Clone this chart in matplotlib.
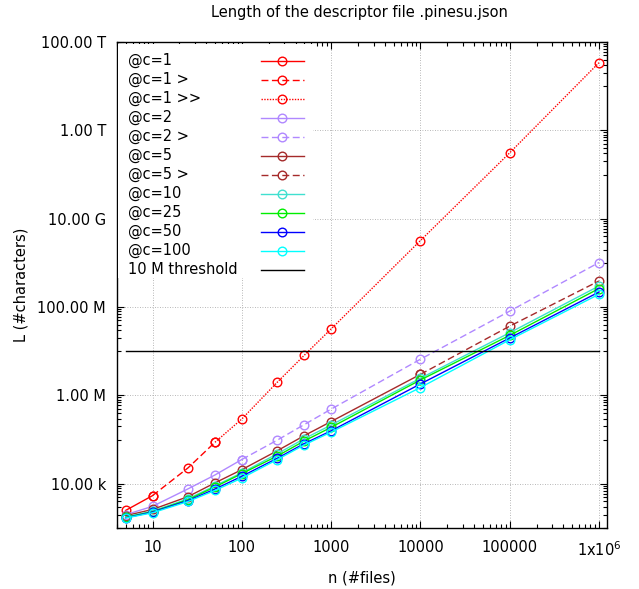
import matplotlib
matplotlib.use('Agg')
import matplotlib.pyplot as plt
from matplotlib.ticker import FixedLocator, FuncFormatter, NullFormatter
from matplotlib.patches import Rectangle

plt.rcParams['font.family'] = ['DejaVu Sans']
plt.rcParams['font.size'] = 10.5

# number of files for each series
n_c1 = [5, 10]
n_c1_gt = [10, 25, 50]
n_c1_gtgt = [50, 100, 250, 500, 1000, 10000, 100000, 1000000]
n_c2 = [5, 10, 25, 50, 100]
n_c2_gt = [100, 250, 500, 1000, 10000, 100000, 1000000]
n_c5 = [5, 10, 25, 50, 100, 250, 500, 1000, 10000]
n_c5_gt = [10000, 100000, 1000000]
n_all = [5, 10, 25, 50, 100, 250, 500, 1000, 10000, 100000, 1000000]

# descriptor length (characters)
L_c1 = [2500, 5400]
L_c1_gt = [5400, 23000, 87000]
L_c1_gtgt = [87000, 293000, 2.0e6, 8.1e6, 3.2e7, 3.2e9, 3.1e11, 3.4e13]
L_c2 = [2000, 3090, 7700, 15850, 35500]
L_c2_gt = [35500, 97700, 219000, 490000, 6.6e6, 8.1e7, 1.02e9]
L_c5 = [1900, 2630, 5130, 10500, 20900, 56200, 123000, 257000, 3.0e6]
L_c5_gt = [3.0e6, 3.7e7, 3.9e8]
L_c10 = [1780, 2400, 4570, 9000, 17800, 47900, 105000, 214000, 2.45e6, 2.63e7, 3.0e8]
L_c25 = [1740, 2340, 4370, 8500, 17000, 42700, 93300, 190000, 2.24e6, 2.29e7, 2.63e8]
L_c50 = [1700, 2290, 4170, 7590, 14800, 38000, 81300, 158000, 1.82e6, 2.0e7, 2.19e8]
L_c100 = [1680, 2210, 3980, 7080, 13500, 35500, 75900, 148000, 1.51e6, 1.82e7, 1.95e8]

threshold_n = [5, 1000000]
threshold_L = [1e7, 1e7]

dashed = (0, (5, 2.5))
dotted = (0, (1, 1))

series = [
    ('@c=1', n_c1, L_c1, '#ff0000', '-'),
    ('@c=1 >', n_c1_gt, L_c1_gt, '#ff0000', dashed),
    ('@c=1 >>', n_c1_gtgt, L_c1_gtgt, '#ff0000', dotted),
    ('@c=2', n_c2, L_c2, '#b088ff', '-'),
    ('@c=2 >', n_c2_gt, L_c2_gt, '#b088ff', dashed),
    ('@c=5', n_c5, L_c5, '#a52a2a', '-'),
    ('@c=5 >', n_c5_gt, L_c5_gt, '#a52a2a', dashed),
    ('@c=10', n_all, L_c10, '#40e0d0', '-'),
    ('@c=25', n_all, L_c25, '#00ee00', '-'),
    ('@c=50', n_all, L_c50, '#0000ff', '-'),
    ('@c=100', n_all, L_c100, '#00ffff', '-'),
]

fig = plt.figure(figsize=(6.39, 5.89), dpi=100)
ax = fig.add_axes([117 / 639, 1 - 528 / 589, 490 / 639, 486 / 589])

mk = dict(marker='o', markersize=6.2, markerfacecolor='none', markeredgewidth=1.0)

for label, n, L, color, ls in series:
    ax.plot(n, L, color=color, linestyle=ls, linewidth=1.0, markeredgecolor=color, **mk)
ax.plot(threshold_n, threshold_L, color='black', linewidth=1.0)

ax.set_xscale('log')
ax.set_yscale('log')
ax.set_xlim(4, 1.23e6)
ax.set_ylim(1e3, 1e14)

# ticks
xt = [10, 100, 1000, 10000, 100000, 1000000]
xt_labels = ['10', '100', '1000', '10000', '100000', r'1x10$^{6}$']
ax.xaxis.set_major_locator(FixedLocator(xt))
ax.set_xticklabels(xt_labels)
ax.xaxis.set_minor_locator(FixedLocator([k * 10 ** e for e in range(0, 7) for k in range(2, 10)]))
ax.xaxis.set_minor_formatter(NullFormatter())

yt = [1e4, 1e6, 1e8, 1e10, 1e12, 1e14]
ax.yaxis.set_major_locator(FixedLocator(yt))
ax.yaxis.set_minor_locator(FixedLocator([k * 10.0 ** (e + 1) for e in range(2, 14, 2) for k in range(1, 10)]))
ax.yaxis.set_minor_formatter(NullFormatter())


def si_fmt(v, pos):
    for p, s in [(1e12, 'T'), (1e9, 'G'), (1e6, 'M'), (1e3, 'k')]:
        if v >= p:
            return f'{v / p:.2f} {s}'
    return f'{v:.2f}'


ax.yaxis.set_major_formatter(FuncFormatter(si_fmt))

ax.tick_params(which='both', direction='in', top=True, right=True, width=0.8, colors='black')
ax.tick_params(which='major', length=5)
ax.tick_params(which='minor', length=2.7)
ax.tick_params(axis='y', which='major', pad=8)
ax.tick_params(axis='x', which='major', pad=9)

for sp in ax.spines.values():
    sp.set_linewidth(1.0)

ax.grid(True, which='major', color='#a0a0a0', linestyle=(0, (1, 2)), linewidth=0.6)
ax.set_axisbelow(True)

ax.set_xlabel('n (#files)', labelpad=8)
ax.set_ylabel('L (#characters)', labelpad=6)
fig.text(359 / 639, 1 - 13 / 589, 'Length of the descriptor file .pinesu.json', ha='center', va='center')

# key, gnuplot style: text on the left, sample on the right, opaque
def ax_x(px):
    return (px - 117) / 490


def ax_y(py):
    return (528 - py) / 486


ax.add_patch(Rectangle((ax_x(118), ax_y(278)), ax_x(313) - ax_x(118), ax_y(44) - ax_y(278),
                       transform=ax.transAxes, facecolor='white', edgecolor='none', zorder=5))

key_entries = series + [('10 M threshold', None, None, 'black', '-')]
for i, (label, n, L, color, ls) in enumerate(key_entries):
    yy = ax_y(60.7 + 19 * i)
    ax.text(ax_x(128), yy, label, transform=ax.transAxes, ha='left', va='center', zorder=6)
    ax.plot([ax_x(261), ax_x(304)], [yy, yy], transform=ax.transAxes, color=color,
            linestyle=ls, linewidth=1.0, zorder=6, clip_on=False)
    if n is not None:
        ax.plot([ax_x(282)], [yy], transform=ax.transAxes, color=color, markeredgecolor=color,
                linestyle='none', zorder=6, clip_on=False, **mk)

fig.savefig('out.png', dpi=100)
